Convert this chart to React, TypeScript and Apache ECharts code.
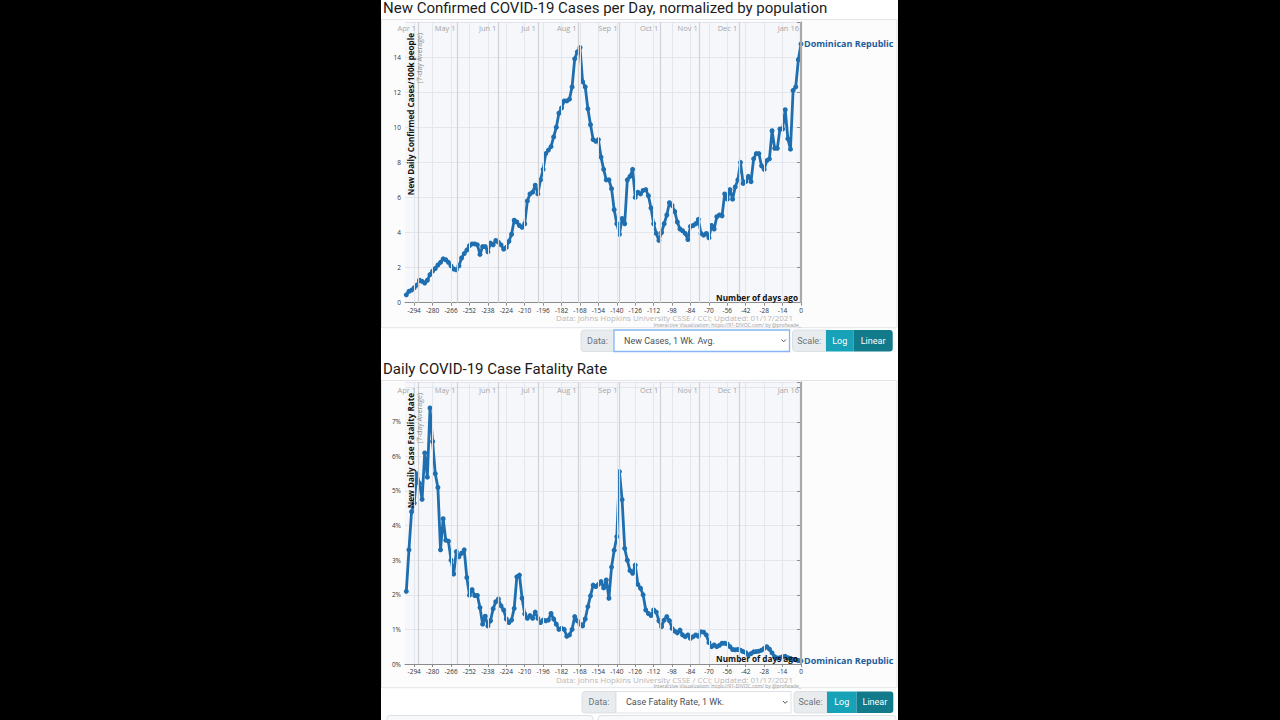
import React, { useEffect, useRef } from "react";
import * as echarts from "echarts";

const TITLE_CASES = "New Confirmed COVID-19 Cases per Day, normalized by population";
const TITLE_CFR = "Daily COVID-19 Case Fatality Rate";
const COUNTRY = "Dominican Republic";
const X_NAME = "Number of days ago";
const SOURCE = "Data: Johns Hopkins University CSSE / CCI; Updated: 01/17/2021";
const CREDIT = "Interactive Visualization: https://91-DIVOC.com/ by @profwade_";
const CASES_Y_TITLE = "New Daily Confirmed Cases/100k people";
const CFR_Y_TITLE = "New Daily Case Fatality Rate";
const AVG_NOTE = "(7-day Average)";

const LAST_DAY = 0;
const DAY_STEP = 2;

// New daily confirmed cases per 100k (7-day avg), every 2 days from -300 to 0
const CASES_PER_100K = [
  0.45, 0.65, 0.72, 0.85, 1.0, 1.28, 1.22, 1.12, 1.28, 1.6,
  1.8, 1.95, 2.15, 2.3, 2.5, 2.45, 2.3, 2.1, 1.92, 1.88,
  2.1, 2.55, 2.8, 3.0, 3.25, 3.35, 3.35, 3.3, 2.75, 3.2,
  3.2, 2.9, 3.4, 3.3, 3.55, 3.45, 3.3, 3.05, 3.15, 3.5,
  3.9, 4.7, 4.6, 4.4, 4.3, 4.5, 5.8, 6.2, 6.3, 6.7,
  6.2, 7.0, 7.6, 8.5, 8.7, 8.9, 9.45, 10.0, 10.8, 11.1,
  11.5, 11.5, 11.6, 12.3, 13.9, 14.3, 14.55, 12.6, 12.3, 11.05,
  10.15, 9.3, 9.2, 9.3, 8.3, 7.6, 7.0, 7.0, 6.5, 5.3,
  4.5, 3.9, 4.8, 4.5, 7.0, 7.2, 7.6, 6.0, 6.3, 6.2,
  6.4, 6.45, 6.1, 5.4, 4.5, 3.95, 3.55, 4.0, 4.5, 5.0,
  5.7, 5.55, 5.2, 4.6, 4.2, 4.1, 3.95, 3.6, 4.35, 4.4,
  4.5, 4.75, 3.95, 3.85, 3.95, 3.7, 4.4, 4.2, 4.9, 5.0,
  4.95, 6.2, 5.9, 6.45, 5.9, 6.6, 7.0, 8.0, 6.8, 6.9,
  7.2, 6.9, 8.2, 8.5, 8.5, 7.8, 7.6, 8.1, 8.2, 9.8,
  8.8, 8.8, 9.9, 9.9, 11.0, 9.35, 8.75, 12.1, 12.3, 13.85, 14.75,
];

// Daily case fatality rate in % (7-day avg), every 2 days from -300 to 0
const CFR_PERCENT = [
  2.1, 3.3, 4.4, 4.65, 5.5, 5.22, 4.76, 6.1, 5.4, 7.4,
  6.43, 5.5, 5.1, 3.3, 4.2, 3.58, 3.55, 3.0, 2.6, 3.25,
  3.1, 3.2, 3.3, 2.5, 1.99, 2.15, 1.98, 1.98, 1.63, 1.15,
  1.38, 1.1, 1.25, 1.6, 1.8, 1.88, 1.68, 1.56, 1.3, 1.2,
  1.27, 1.61, 2.52, 2.57, 1.9, 1.45, 1.32, 1.4, 1.32, 1.5,
  1.32, 1.2, 1.27, 1.25, 1.27, 1.46, 1.3, 1.15, 1.0, 1.03,
  1.0, 0.8, 0.84, 1.0, 1.37, 1.25, 1.15, 1.1, 1.3, 1.66,
  1.97, 2.28, 2.24, 2.3, 2.38, 2.2, 2.43, 1.9, 2.8, 3.29,
  3.68, 5.56, 4.75, 3.34, 3.0, 2.7, 2.62, 2.86, 2.3, 2.19,
  2.0, 1.56, 1.46, 1.4, 1.56, 1.5, 1.25, 1.08, 1.27, 1.37,
  1.25, 1.03, 0.95, 0.9, 0.98, 0.84, 0.79, 0.84, 0.74, 0.79,
  0.84, 0.8, 0.93, 0.92, 0.84, 0.62, 0.5, 0.55, 0.5, 0.54,
  0.6, 0.6, 0.58, 0.5, 0.42, 0.41, 0.42, 0.4, 0.36, 0.33,
  0.26, 0.3, 0.35, 0.36, 0.37, 0.4, 0.45, 0.5, 0.43, 0.32,
  0.21, 0.17, 0.18, 0.21, 0.22, 0.18, 0.16, 0.13, 0.12, 0.1, 0.09,
];

const X_TICKS = [-294, -280, -266, -252, -238, -224, -210, -196, -182, -168, -154, -140, -126, -112, -98, -84, -70, -56, -42, -28, -14, 0];
const MONTH_LABELS = ["Apr 1", "May 1", "Jun 1", "Jul 1", "Aug 1", "Sep 1", "Oct 1", "Nov 1", "Dec 1", "Jan 16"];
const MONTH_DAYS = [-291, -261, -230, -200, -169, -138, -107, -77, -47, 0];
const X_MIN = -301;

const CASES_Y_MAX = 16;
const CFR_Y_MAX = 8.15;

const DATA_LABEL = "Data:";
const SCALE_LABEL = "Scale:";
const CASES_SELECT = "New Cases, 1 Wk. Avg.";
const CFR_SELECT = "Case Fatality Rate, 1 Wk.";
const BTN_LOG = "Log";
const BTN_LINEAR = "Linear";

const LINE_COLOR = "#1f6fb0";
const AXIS_FONT = "Open Sans";
const UI_FONT = "Roboto";

const toPairs = (arr: number[]) =>
  arr.map((v, i) => [LAST_DAY - (arr.length - 1 - i) * DAY_STEP, v]);

function gridMarkLines() {
  const data: any[] = [];
  X_TICKS.filter((d) => d !== 0).forEach((d) =>
    data.push({ xAxis: d, lineStyle: { color: "#e3e6ed", width: 1, type: "solid" } })
  );
  MONTH_DAYS.forEach((d) =>
    data.push({
      xAxis: d,
      lineStyle: { color: d === 0 ? "#a9a9a9" : "#d2d2d2", width: d === 0 ? 2.2 : 1.2, type: "solid" },
    })
  );
  return {
    silent: true,
    symbol: ["none", "none"],
    label: { show: false },
    emphasis: { disabled: true },
    animation: false,
    data,
  };
}

function controls(y: number, xs: number[], selectText: string, focused: boolean) {
  const h = 21.5;
  const [x0, x1, x2, x3, x4, x5] = xs;
  const els: any[] = [
    { type: "rect", z: 5, shape: { x: x0, y, width: x1 - x0, height: h, r: [3, 0, 0, 3] }, style: { fill: "#e9ecef", stroke: "#d6dadf", lineWidth: 0.8 } },
    { type: "text", z: 6, x: (x0 + x1) / 2, y: y + h / 2, style: { text: DATA_LABEL, fill: "#6c757d", fontSize: 9, fontFamily: UI_FONT, align: "center", verticalAlign: "middle" } },
    { type: "rect", z: 5, shape: { x: x1, y, width: x2 - x1, height: h }, style: { fill: "#fff", stroke: focused ? "#86b7f4" : "#d6dadf", lineWidth: focused ? 1.3 : 0.8 } },
    { type: "text", z: 6, x: x1 + 10, y: y + h / 2, style: { text: selectText, fill: "#495057", fontSize: 9, fontFamily: UI_FONT, verticalAlign: "middle" } },
    { type: "polyline", z: 6, shape: { points: [[x2 - 8, y + 9.5], [x2 - 5.8, y + 11.8], [x2 - 3.6, y + 9.5]] }, style: { stroke: "#555", lineWidth: 1, fill: null } },
    { type: "rect", z: 5, shape: { x: x2 + 3, y, width: x3 - x2 - 3, height: h, r: [3, 0, 0, 3] }, style: { fill: "#e9ecef", stroke: "#d6dadf", lineWidth: 0.8 } },
    { type: "text", z: 6, x: (x2 + 3 + x3) / 2, y: y + h / 2, style: { text: SCALE_LABEL, fill: "#6c757d", fontSize: 9, fontFamily: UI_FONT, align: "center", verticalAlign: "middle" } },
    { type: "rect", z: 5, shape: { x: x3, y, width: x4 - x3, height: h }, style: { fill: "#17a2b8" } },
    { type: "text", z: 6, x: (x3 + x4) / 2, y: y + h / 2, style: { text: BTN_LOG, fill: "#fff", fontSize: 9, fontFamily: UI_FONT, align: "center", verticalAlign: "middle" } },
    { type: "rect", z: 5, shape: { x: x4, y, width: x5 - x4, height: h, r: [0, 3, 3, 0] }, style: { fill: "#117a8b" } },
    { type: "text", z: 6, x: (x4 + x5) / 2, y: y + h / 2, style: { text: BTN_LINEAR, fill: "#fff", fontSize: 9, fontFamily: UI_FONT, align: "center", verticalAlign: "middle" } },
  ];
  return els;
}

function chartTexts(plotTop: number, plotBottom: number, boxTop: number, boxBottom: number, title: string, yTitle: string) {
  return [
    { type: "rect", z: -10, shape: { x: 381.5, y: boxTop, width: 515.5, height: boxBottom - boxTop }, style: { fill: "#fcfcfd", stroke: "#e2e4e8", lineWidth: 1 } },
    { type: "rect", z: -9, shape: { x: 405, y: plotTop, width: 396, height: plotBottom - plotTop }, style: { fill: "#f6f7fa" } },
    { type: "text", z: 10, x: 383, y: boxTop - 11.5, style: { text: title, fill: "#1b1b1b", fontSize: 15, fontFamily: UI_FONT, verticalAlign: "middle" } },
    { type: "text", z: 10, x: 410.5, y: plotTop + 11, rotation: Math.PI / 2, style: { text: yTitle, fill: "#111", fontSize: 8.1, fontWeight: "bold", fontFamily: AXIS_FONT, align: "right", verticalAlign: "middle" } },
    { type: "text", z: 10, x: 419.5, y: plotTop + 11, rotation: Math.PI / 2, style: { text: AVG_NOTE, fill: "#8a8a8a", fontSize: 7, fontFamily: AXIS_FONT, align: "right", verticalAlign: "middle" } },
    { type: "text", z: 10, x: 798, y: plotBottom - 5.5, style: { text: X_NAME, fill: "#111", fontSize: 8.2, fontWeight: "bold", fontFamily: AXIS_FONT, align: "right", verticalAlign: "middle" } },
    { type: "text", z: 10, x: 793, y: plotBottom + 15, style: { text: SOURCE, fill: "#b8b8b8", fontSize: 8, fontFamily: AXIS_FONT, align: "right", verticalAlign: "middle" } },
    { type: "text", z: 10, x: 801, y: plotBottom + 21.8, style: { text: CREDIT, fill: "#9a9a9a", fontSize: 5, fontFamily: AXIS_FONT, align: "right", verticalAlign: "middle" } },
  ];
}

export default function App() {
  const ref = useRef<HTMLDivElement>(null);

  useEffect(() => {
    if (!ref.current) return;
    const chart = echarts.init(ref.current, null, { renderer: "svg" });

    const casesData = toPairs(CASES_PER_100K);
    const cfrData = toPairs(CFR_PERCENT);

    const xAxisBase = (gridIndex: number) => ({
      type: "value",
      gridIndex,
      min: X_MIN,
      max: 0,
      axisLine: { show: true, onZero: false, lineStyle: { color: "#8c8c8c", width: 1 } },
      axisTick: { show: true, length: 3, customValues: X_TICKS, lineStyle: { color: "#8c8c8c" } },
      axisLabel: { customValues: X_TICKS, fontSize: 6.5, color: "#333", fontFamily: AXIS_FONT, margin: 4, formatter: (v: number) => String(v) },
      splitLine: { show: false },
    });

    const lineSeries = (data: number[][], xi: number) => ({
      type: "line",
      xAxisIndex: xi,
      yAxisIndex: xi,
      data,
      z: 3,
      color: LINE_COLOR,
      lineStyle: { width: 2.8, color: LINE_COLOR },
      itemStyle: { color: LINE_COLOR },
      symbol: "circle",
      symbolSize: 5,
      showSymbol: true,
      clip: false,
      endLabel: {
        show: true,
        formatter: COUNTRY,
        color: "#1d5d9b",
        fontWeight: "bold",
        fontSize: 9,
        fontFamily: AXIS_FONT,
        distance: 3,
      },
    });

    const gridSeries = (data: number[][], xi: number) => ({
      type: "line",
      xAxisIndex: xi,
      yAxisIndex: xi,
      data,
      z: 1,
      showSymbol: false,
      lineStyle: { opacity: 0 },
      silent: true,
      markLine: gridMarkLines(),
    });

    const staticGraphics: any[] = [
      { type: "rect", z: -20, shape: { x: 381, y: 0, width: 517, height: 720 }, style: { fill: "#ffffff" } },
      ...chartTexts(22, 302.7, 19.5, 327.7, TITLE_CASES, CASES_Y_TITLE),
      ...chartTexts(382, 664, 380.5, 687.7, TITLE_CFR, CFR_Y_TITLE),
      ...controls(330, [581, 614, 789.5, 826, 853.5, 892.7], CASES_SELECT, true),
      ...controls(691.5, [582, 616, 791, 827, 856.5, 893.3], CFR_SELECT, false),
      { type: "rect", z: -5, shape: { x: 387, y: 715.5, width: 206, height: 10, r: 3 }, style: { fill: "#f8f9fa", stroke: "#dee2e6", lineWidth: 1 } },
      { type: "rect", z: -5, shape: { x: 598, y: 715.5, width: 298, height: 10, r: 3 }, style: { fill: "#f8f9fa", stroke: "#dee2e6", lineWidth: 1 } },
    ];

    const option: any = {
      animation: false,
      backgroundColor: "transparent",
      grid: [
        { left: 405, top: 22, width: 396, height: 280.7, containLabel: false },
        { left: 405, top: 382, width: 396, height: 282, containLabel: false },
      ],
      xAxis: [xAxisBase(0), xAxisBase(1)],
      yAxis: [
        {
          type: "value",
          gridIndex: 0,
          min: 0,
          max: CASES_Y_MAX,
          interval: 2,
          axisLine: { show: true, lineStyle: { color: "#8c8c8c" } },
          axisTick: { show: true, length: 4, lineStyle: { color: "#8c8c8c" } },
          axisLabel: { fontSize: 6.5, color: "#333", fontFamily: AXIS_FONT, margin: 4, formatter: (v: number) => (v > 15 ? "" : String(v)) },
          splitLine: { show: true, lineStyle: { color: "#e3e6ed", width: 1 } },
        },
        {
          type: "value",
          gridIndex: 1,
          min: 0,
          max: CFR_Y_MAX,
          interval: 1,
          axisLine: { show: true, lineStyle: { color: "#8c8c8c" } },
          axisTick: { show: true, length: 4, lineStyle: { color: "#8c8c8c" } },
          axisLabel: { fontSize: 6.5, color: "#333", fontFamily: AXIS_FONT, margin: 4, formatter: (v: number) => (v > 7.5 ? "" : v + "%") },
          splitLine: { show: true, lineStyle: { color: "#e3e6ed", width: 1 } },
        },
      ],
      series: [gridSeries(casesData, 0), gridSeries(cfrData, 1), lineSeries(casesData, 0), lineSeries(cfrData, 1)],
      graphic: { elements: staticGraphics },
    };

    chart.setOption(option);

    const monthTexts: any[] = [];
    [0, 1].forEach((gi) => {
      const yTop = gi === 0 ? 28 : 389.5;
      MONTH_DAYS.forEach((d, i) => {
        const px = chart.convertToPixel({ xAxisIndex: gi }, d) as number;
        monthTexts.push({
          type: "text",
          z: 10,
          x: px - 2,
          y: yTop,
          style: { text: MONTH_LABELS[i], fill: "#a6a6a6", fontSize: 7.5, fontFamily: AXIS_FONT, align: "right", verticalAlign: "middle" },
        });
      });
    });
    chart.setOption({ graphic: { elements: [...staticGraphics, ...monthTexts] } });

    return () => chart.dispose();
  }, []);

  return (
    <div style={{ position: "fixed", left: 0, top: 0, width: 1280, height: 720, background: "#000" }}>
      <div ref={ref} style={{ width: 1280, height: 720 }} />
    </div>
  );
}
